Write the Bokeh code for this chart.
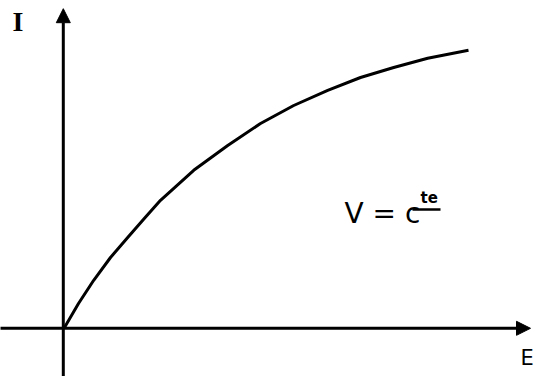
from bokeh.plotting import figure
from bokeh.models import Range1d, Arrow, NormalHead
from bokeh.core.properties import value
from bokeh.embed import file_html
from bokeh.resources import INLINE

# Curve (arbitrary units): field E vs current I at constant V
E = [0.0, 0.35, 0.73, 1.15, 1.58, 2.0, 2.4, 3.23, 4.08, 4.9, 5.73, 6.58, 7.4, 8.23, 9.08, 10.1]
I = [0.0, 0.6, 1.18, 1.75, 2.25, 2.73, 3.18, 3.93, 4.55, 5.1, 5.55, 5.93, 6.25, 6.5, 6.73, 6.93]

x_label = "E"
y_label = "I"
note_main = "V = c"
note_sup = "te"

p = figure(width=536, height=376, output_backend="svg", toolbar_location=None,
           x_range=Range1d(-1.6, 11.8), y_range=Range1d(-1.225, 8.175),
           min_border=0)
p.axis.visible = False
p.grid.visible = False
p.outline_line_color = None
p.background_fill_color = "white"
p.border_fill_color = "white"

# axes with arrows
p.add_layout(Arrow(end=NormalHead(size=14, fill_color="black", line_color="black"),
                   x_start=-0.03, y_start=-1.25, x_end=-0.03, y_end=7.97,
                   line_width=3, line_color="black"))
p.add_layout(Arrow(end=NormalHead(size=14, fill_color="black", line_color="black"),
                   x_start=-1.7, y_start=-0.02, x_end=11.65, y_end=-0.02,
                   line_width=3, line_color="black"))

p.line(E, I, line_width=3, line_color="black")

p.text(x=[-1.3], y=[8.05], text=[y_label], text_font=value("Liberation Serif"),
       text_font_size="28px", text_font_style="bold", text_baseline="top", text_color="black")
p.text(x=[11.4], y=[-0.45], text=[x_label], text_font=value("DejaVu Sans"),
       text_font_size="21px", text_baseline="top", text_color="black")
p.text(x=[7.0], y=[2.85], text=[note_main], text_font=value("DejaVu Sans"),
       text_font_size="28px", text_baseline="alphabetic", text_color="black")
p.text(x=[8.9], y=[3.25], text=[note_sup], text_font=value("DejaVu Sans"),
       text_font_size="15px", text_font_style="bold", text_baseline="alphabetic", text_color="black")
p.segment(x0=[8.7], y0=[2.95], x1=[9.4], y1=[2.95], line_width=2.5, line_color="black")

open("out.html", "w").write(file_html(p, INLINE))
